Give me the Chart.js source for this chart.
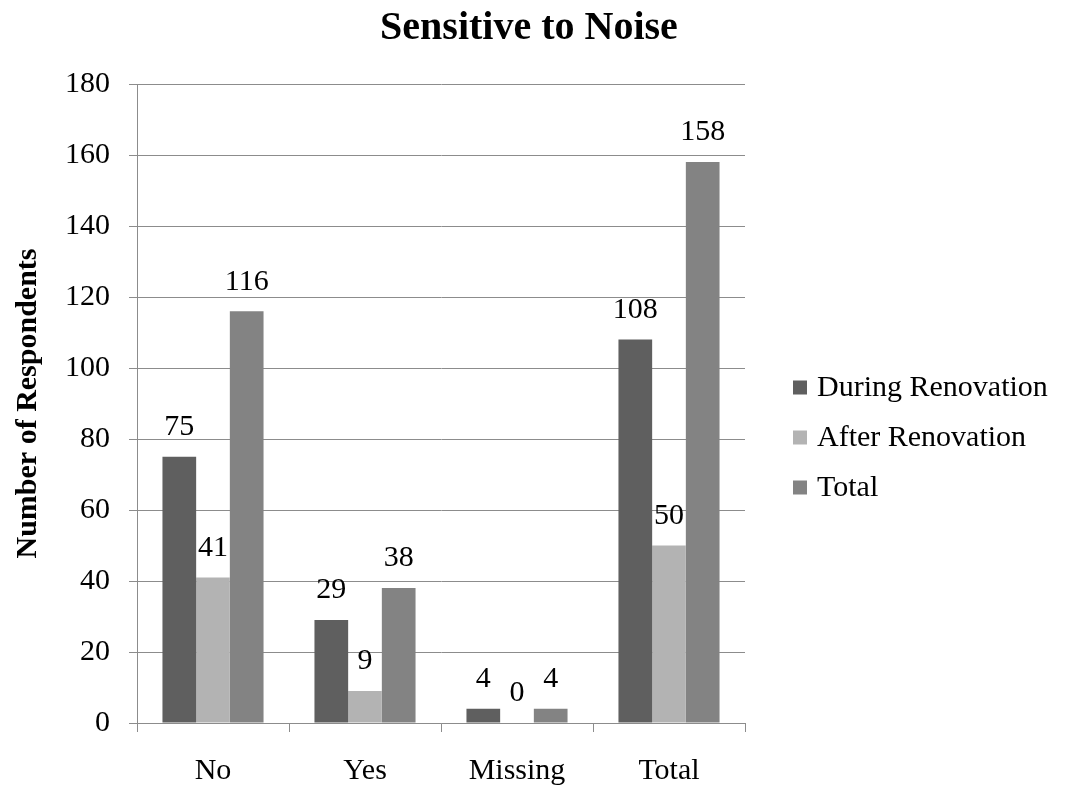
<!DOCTYPE html>
<html>
<head>
<meta charset="utf-8">
<script src="https://cdn.jsdelivr.net/npm/chart.js@4/dist/chart.umd.min.js"></script>
<style>
  html, body { margin: 0; padding: 0; background: #fff; }
  #wrap { width: 1068px; height: 790px; }
</style>
</head>
<body>
<div id="wrap"><canvas id="chart" width="1068" height="790"></canvas></div>
<script>
// ── Data ─────────────────────────────────────────────
const TITLE      = 'Sensitive to Noise';
const CATEGORIES = ['No', 'Yes', 'Missing', 'Total'];
const SERIES     = ['During Renovation', 'After Renovation', 'Total'];
const DURING     = [75, 29, 4, 108];
const AFTER      = [41, 9, 0, 50];
const TOTAL      = [116, 38, 4, 158];

const COLORS = ['#5f5f5f', '#b3b3b3', '#838383'];
const FONT = "'Liberation Serif', 'Times New Roman', serif";

// ── Value labels above bars ──────────────────────────
const valueLabels = {
  id: 'valueLabels',
  afterDatasetsDraw(chart) {
    const ctx = chart.ctx;
    ctx.save();
    ctx.font = '30px ' + FONT;
    ctx.fillStyle = '#000';
    ctx.textAlign = 'center';
    ctx.textBaseline = 'middle';
    chart.data.datasets.forEach(function (ds, i) {
      const meta = chart.getDatasetMeta(i);
      meta.data.forEach(function (bar, j) {
        ctx.fillText(String(ds.data[j]), bar.x, bar.y - 29.5);
      });
    });
    ctx.restore();
  }
};

// ── Title over the whole canvas + legend on the right ─
// (built-in legend gets squeezed to half width, and the built-in
//  title would centre over the padded area only)
const sideLegend = {
  id: 'sideLegend',
  afterDraw(chart) {
    const ctx = chart.ctx;
    const area = chart.chartArea;
    ctx.save();

    ctx.font = 'bold 40px ' + FONT;
    ctx.fillStyle = '#000';
    ctx.textAlign = 'center';
    ctx.textBaseline = 'alphabetic';
    ctx.fillText(TITLE, 529, 39);

    const x = area.right + 48;
    const midY = (area.top + area.bottom) / 2 + 34;
    ctx.font = '30px ' + FONT;
    ctx.textAlign = 'left';
    ctx.textBaseline = 'middle';
    chart.data.datasets.forEach(function (ds, i) {
      const y = midY + (i - 1) * 50;
      ctx.fillStyle = ds.backgroundColor;
      ctx.fillRect(x, y - 7, 14, 14);
      ctx.fillStyle = '#000';
      ctx.fillText(ds.label, x + 24, y + 1);
    });
    ctx.restore();
  }
};

new Chart(document.getElementById('chart'), {
  type: 'bar',
  data: {
    labels: CATEGORIES,
    datasets: [
      { label: SERIES[0], data: DURING, backgroundColor: COLORS[0] },
      { label: SERIES[1], data: AFTER,  backgroundColor: COLORS[1] },
      { label: SERIES[2], data: TOTAL,  backgroundColor: COLORS[2] }
    ]
  },
  options: {
    responsive: false,
    animation: false,
    layout: { padding: { left: 10, right: 323, top: 84, bottom: -20 } },
    datasets: { bar: { categoryPercentage: 0.665, barPercentage: 1.0 } },
    plugins: {
      title: { display: false },
      legend: { display: false },
      tooltip: { enabled: false }
    },
    scales: {
      x: {
        grid: { display: true, drawOnChartArea: false, drawTicks: true, tickLength: 9, color: '#8c8c8c' },
        border: { display: true, color: '#8c8c8c' },
        ticks: { color: '#000', font: { family: FONT, size: 30 }, padding: 21 }
      },
      y: {
        min: 0,
        max: 180,
        ticks: { stepSize: 20, color: '#000', font: { family: FONT, size: 30 }, padding: 19 },
        grid: { color: '#8c8c8c', tickLength: 8 },
        border: { display: true, color: '#8c8c8c' },
        title: {
          display: true,
          text: 'Number of Respondents',
          color: '#000',
          font: { family: FONT, size: 30, weight: 'bold' },
          padding: { top: 0, bottom: 0 }
        }
      }
    }
  },
  plugins: [valueLabels, sideLegend]
});
</script>
</body>
</html>
